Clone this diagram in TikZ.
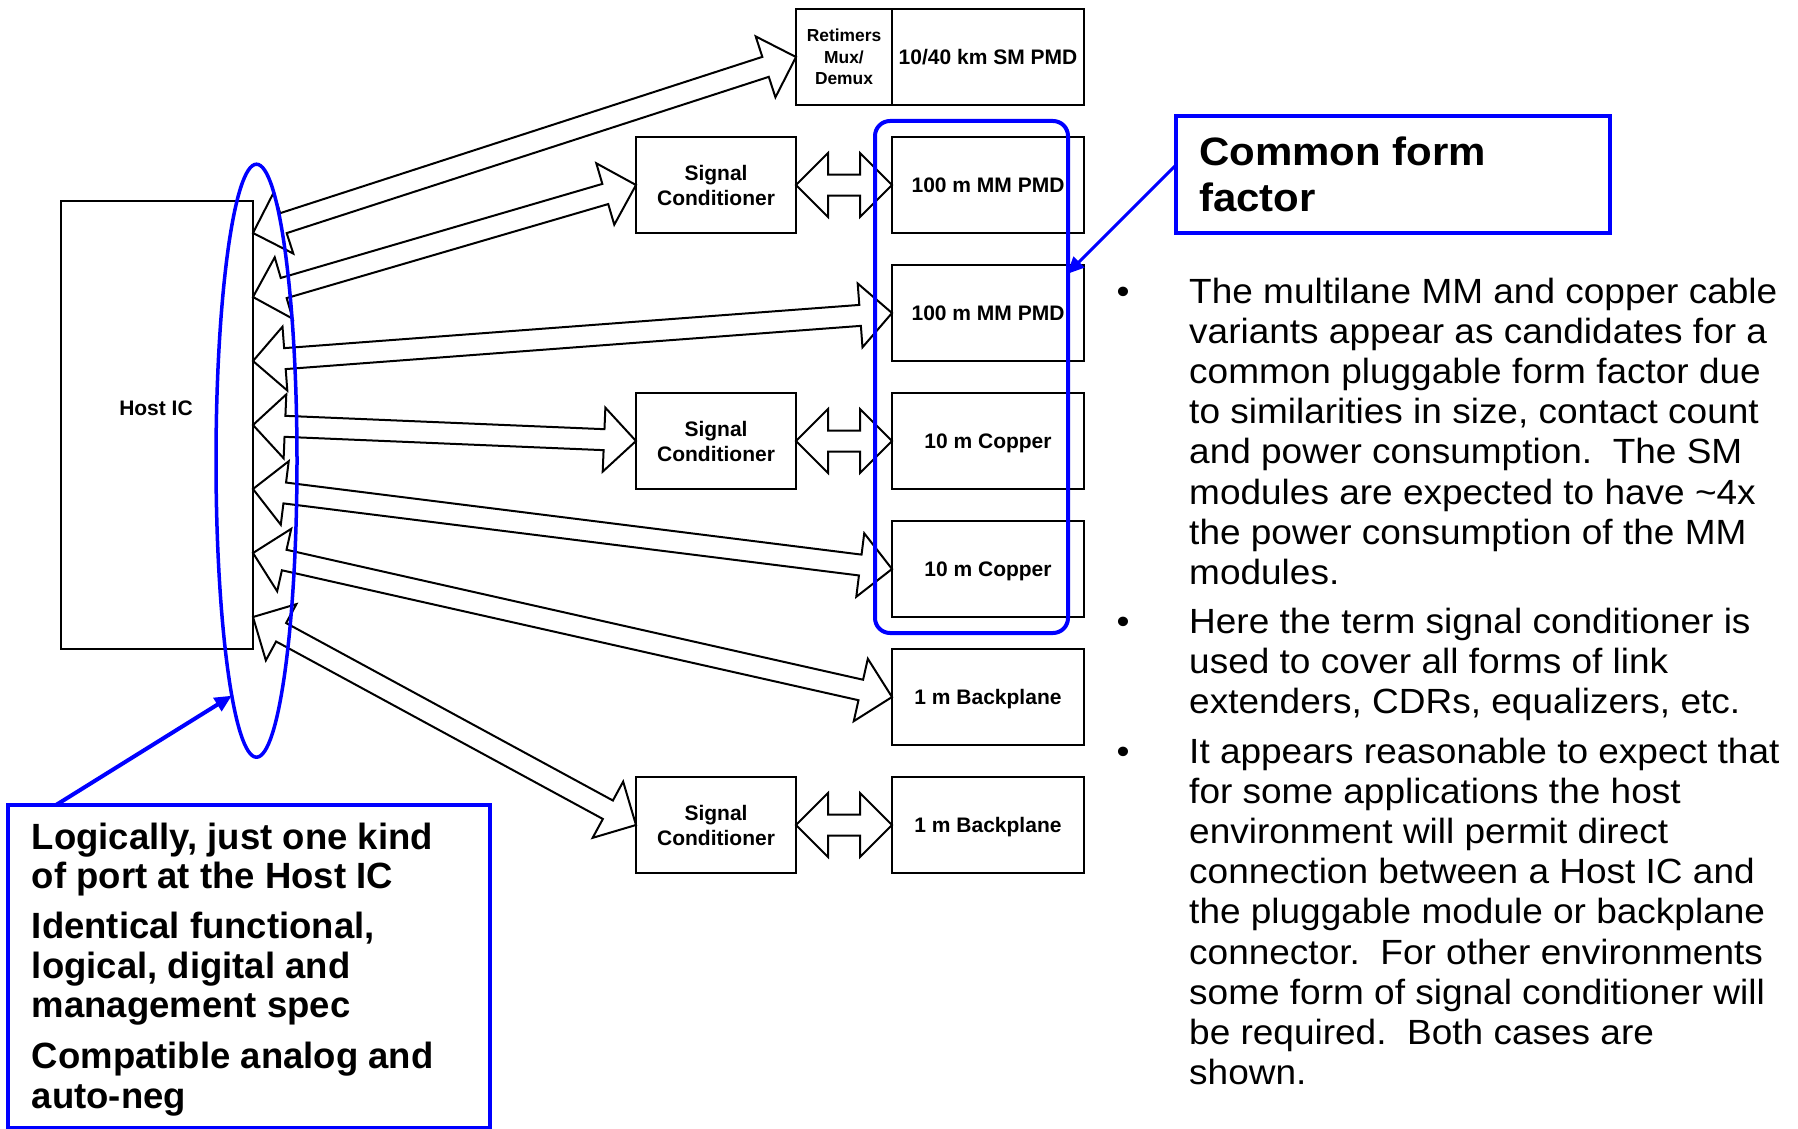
\documentclass[tikz,border=0pt]{standalone}
\usepackage{fontspec}
\setmainfont{Liberation Sans}
\newfontfamily\bodyfont[FakeStretch=1.057]{Liberation Sans}
\newfontfamily\headfont[FakeStretch=1.06]{Liberation Sans}
\usetikzlibrary{calc,arrows.meta,shapes.geometric}

% double-headed block arrow between two named points
\newcommand\fatarrow[2]{%
  \draw[blockarrow] (#1)
    -- ($(#1)!32pt!(#2)!32pt!90:(#2)$)
    -- ($(#1)!32pt!(#2)!10.5pt!90:(#2)$)
    -- ($(#2)!32pt!(#1)!10.5pt!-90:(#1)$)
    -- ($(#2)!32pt!(#1)!32pt!-90:(#1)$)
    -- (#2)
    -- ($(#2)!32pt!(#1)!32pt!90:(#1)$)
    -- ($(#2)!32pt!(#1)!10.5pt!90:(#1)$)
    -- ($(#1)!32pt!(#2)!10.5pt!-90:(#2)$)
    -- ($(#1)!32pt!(#2)!32pt!-90:(#2)$)
    -- cycle;}

\begin{document}
\begin{tikzpicture}[x=1pt,y=-1pt,
  box/.style={draw, line width=2pt, inner sep=0pt, outer sep=0pt, align=center,
    font=\fontsize{21}{25}\selectfont\bfseries},
  module/.style={box, minimum width=192pt, minimum height=96pt, text height=15pt, text depth=0pt},
  sigcond/.style={box, minimum width=160pt, minimum height=96pt},
  blockarrow/.style={draw, fill=white, line width=2pt, line join=miter},
  hl/.style={draw=blue, line width=4pt, inner sep=0pt, outer sep=0pt},
  callout/.style={draw=blue, line width=#1, -{Triangle[length=17pt,width=15pt]}},
  body/.style={inner sep=0pt, anchor=base west,
    font=\bodyfont\frenchspacing\fontsize{35}{40.2}\selectfont},
  note/.style={inner sep=0pt, anchor=base west,
    font=\frenchspacing\fontsize{36.5}{39.7}\selectfont\bfseries},
  bulletdot/.style={inner sep=0pt, anchor=base, font=\bodyfont\fontsize{35}{40}\selectfont}]

\useasboundingbox (0,0) rectangle (1798,1129);

% host and its label
\node[box, minimum width=192pt, minimum height=448pt] (host) at (157,425) {};
\node[inner sep=0pt, font=\fontsize{21}{25}\selectfont\bfseries, text height=15pt, text depth=0pt]
  (hostlabel) at (156,408) {Host IC};

% top row: retimer cell and SM PMD
\node[box, minimum width=96pt, minimum height=96pt,
  font=\fontsize{17.4}{21.7}\selectfont\bfseries] (ret) at (844,57) {Retimers\\Mux/\\Demux};
\node[module] (smpmd) at (988,57) {10/40 km SM PMD};

% modules and signal conditioners
\node[sigcond] (sc1) at (716,185) {Signal\\Conditioner};
\node[module] (mm1) at (988,185) {100 m MM PMD};
\node[module] (mm2) at (988,313) {100 m MM PMD};
\node[sigcond] (sc2) at (716,441) {Signal\\Conditioner};
\node[module] (cu1) at (988,441) {10 m Copper};
\node[module] (cu2) at (988,569) {10 m Copper};
\node[module] (bp1) at (988,697) {1 m Backplane};
\node[sigcond] (sc3) at (716,825) {Signal\\Conditioner};
\node[module] (bp2) at (988,825) {1 m Backplane};

% ports along the host edge
\foreach \k in {1,...,7}
  \coordinate (h\k) at ($(host.north east)+(0,{64*\k-32})$);

% block arrows
\fatarrow{h1}{ret.west}
\fatarrow{h2}{sc1.west}
\fatarrow{h3}{mm2.west}
\fatarrow{h4}{sc2.west}
\fatarrow{h5}{cu2.west}
\fatarrow{h6}{bp1.west}
\fatarrow{h7}{sc3.west}
\fatarrow{sc1.east}{mm1.west}
\fatarrow{sc2.east}{cu1.west}
\fatarrow{sc3.east}{bp2.west}

% highlights
\node[ellipse, draw=blue, line width=3.5pt, inner sep=0pt, outer sep=0pt,
  minimum width=81pt, minimum height=593pt] (port) at (256.5,460.7) {};
\node[hl, rounded corners=15pt, minimum width=193pt, minimum height=512pt] (common) at (971.5,377) {};

% callout boxes
\node[hl, minimum width=434pt, minimum height=117pt] (cff) at (1393,174.5) {};
\node[note, font=\headfont\frenchspacing\fontsize{39.6}{46.7}\selectfont\bfseries]
  (cfftext) at (1199,165) {\vtop{\hbox{Common form}\hbox{factor}}};
\coordinate (cfftip) at (1067,274);
\draw[callout=3pt] ([yshift=9.5pt]cff.west) -- (cfftip);

\node[hl, minimum width=482.5pt, minimum height=322.5pt] (lbox) at (248.75,966.25) {};
\node[note] (n1) at (31.7,849) {\vtop{\hbox{Logically, just one kind}\hbox{of port at the Host IC}}};
\node[note] (n2) at (31.7,938.3) {\vtop{\hbox{Identical functional,}\hbox{logical, digital and}\hbox{management spec}}};
\node[note] (n3) at (31.7,1068.3) {\vtop{\hbox{Compatible analog and}\hbox{auto-neg}}};
\draw[callout=4pt] ([xshift=48.5pt]lbox.north west) -- (port.264);

% bullet list
\node[bulletdot] (d1) at (1123,303) {\textbullet};
\node[body] (t1) at (1189,303) {\vtop{%
  \hbox{The multilane MM and copper cable}
  \hbox{variants appear as candidates for a}
  \hbox{common pluggable form factor due}
  \hbox{to similarities in size, contact count}
  \hbox{and power consumption.\ \ The SM}
  \hbox{modules are expected to have \textasciitilde 4x}
  \hbox{the power consumption of the MM}
  \hbox{modules.}}};
\node[bulletdot] (d2) at (1123,633) {\textbullet};
\node[body] (t2) at (1189,633) {\vtop{%
  \hbox{Here the term signal conditioner is}
  \hbox{used to cover all forms of link}
  \hbox{extenders, CDRs, equalizers, etc.}}};
\node[bulletdot] (d3) at (1123,763) {\textbullet};
\node[body] (t3) at (1189,763) {\vtop{%
  \hbox{It appears reasonable to expect that}
  \hbox{for some applications the host}
  \hbox{environment will permit direct}
  \hbox{connection between a Host IC and}
  \hbox{the pluggable module or backplane}
  \hbox{connector.\ \ For other environments}
  \hbox{some form of signal conditioner will}
  \hbox{be required.\ \ Both cases are}
  \hbox{shown.}}};
\end{tikzpicture}
\end{document}
